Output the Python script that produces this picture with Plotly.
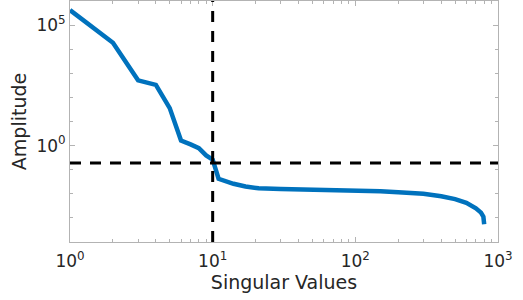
import plotly.graph_objects as go

# Singular value index and amplitude
rank = [1, 2, 3, 4, 5, 6, 7, 8, 9, 10, 11, 12, 13, 14, 17, 21, 30, 50, 80,
        100, 150, 200, 300, 400, 500, 600, 700, 760, 790, 800]
amplitude = [4.2e5, 1.86e4, 5.1e2, 3.3e2, 3.6e1, 1.62, 1.12, 0.78, 0.39, 0.26,
             0.042, 0.035, 0.030, 0.026, 0.020, 0.017, 0.0158, 0.0151, 0.0145,
             0.0138, 0.0129, 0.0117, 0.0100, 0.0079, 0.0060, 0.0042, 0.0025,
             0.00166, 0.00112, 0.00055]

threshold_rank = 10
threshold_amp = 0.19

x_tickvals = [1, 10, 100, 1000]
x_ticktext = ["10<sup>0</sup>", "10<sup>1</sup>", "10<sup>2</sup>", "10<sup>3</sup>"]
y_tickvals = [1, 1e5]
y_ticktext = ["10<sup>0</sup>", "10<sup>5</sup>"]
y_minorvals = [1e-4, 1e-3, 1e-2, 1e-1, 10, 100, 1e3, 1e4, 1e6]

GRAY = "#b3b3b3"
TXT = "#262626"
FONT = "DejaVu Sans"

fig = go.Figure()
fig.add_trace(go.Scatter(x=rank, y=amplitude, mode="lines",
                         line=dict(color="#0072BD", width=4.5), showlegend=False))
fig.add_shape(type="line", xref="x", yref="paper", x0=threshold_rank, x1=threshold_rank,
              y0=0, y1=1, line=dict(color="black", width=3, dash="11px,9px"))
fig.add_shape(type="line", xref="paper", yref="y", x0=0, x1=1,
              y0=threshold_amp, y1=threshold_amp,
              line=dict(color="black", width=3, dash="11px,9px"))

axis_common = dict(showgrid=False, zeroline=False, showline=True, linecolor=GRAY,
                   linewidth=1, mirror="ticks", ticks="inside", tickcolor=GRAY,
                   automargin=False,
                   tickfont=dict(family=FONT, size=17, color=TXT))

fig.update_xaxes(type="log", range=[0, 3], tickvals=x_tickvals, ticktext=x_ticktext,
                 ticklen=5, ticklabelstandoff=4,
                 minor=dict(ticks="inside", ticklen=3, tickcolor=GRAY, dtick="D1"),
                 title=dict(text="Singular Values", standoff=4,
                            font=dict(family=FONT, size=19, color=TXT)),
                 **axis_common)
fig.update_yaxes(type="log", range=[-4, 6], tickvals=y_tickvals, ticktext=y_ticktext,
                 ticklen=5,
                 minor=dict(ticks="inside", ticklen=3, tickcolor=GRAY, tickvals=y_minorvals),
                 title=dict(text="Amplitude", standoff=4,
                            font=dict(family=FONT, size=19, color=TXT)),
                 **axis_common)

fig.update_layout(width=523, height=300, margin=dict(l=70, r=25, t=1, b=58),
                  plot_bgcolor="white", paper_bgcolor="white")
fig.write_html("out.html", config={"displayModeBar": False},
               post_script="document.body.style.margin='0';")
